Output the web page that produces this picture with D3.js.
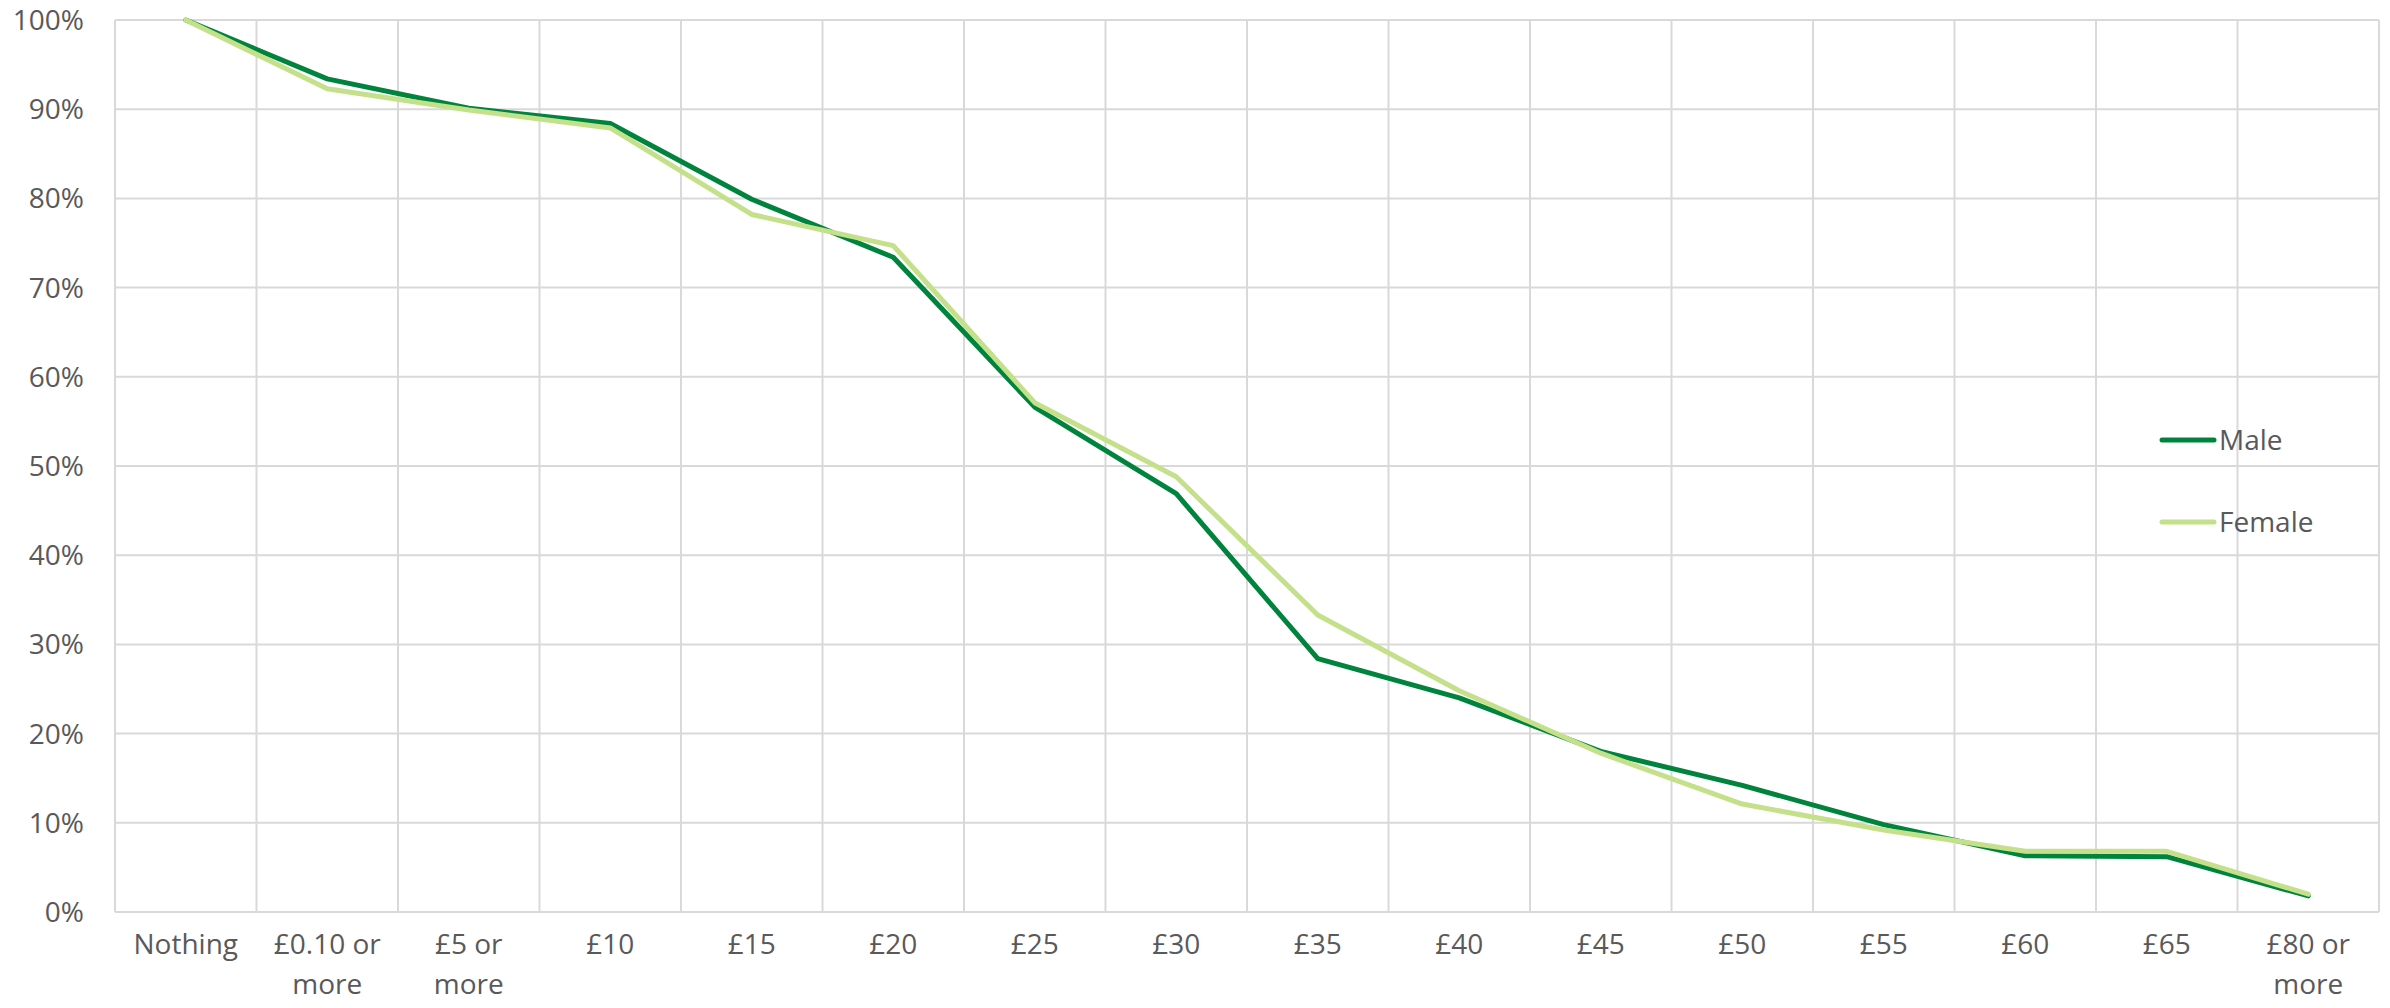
<!DOCTYPE html>
<html>
<head>
<meta charset="utf-8">
<script src="https://cdn.jsdelivr.net/npm/d3@7"></script>
<style>
  body { margin: 0; background: #fff; }
  svg text { font-family: "Open Sans", sans-serif; fill: #595959; font-size: 28px; }
</style>
</head>
<body>
<svg></svg>
<script>
const categories = ["Nothing", "£0.10 or more", "£5 or more", "£10", "£15", "£20", "£25", "£30",
                    "£35", "£40", "£45", "£50", "£55", "£60", "£65", "£80 or more"];
const male   = [100, 93.4, 90.1, 88.4, 79.9, 73.4, 56.6, 46.9, 28.4, 24.0, 18.0, 14.2, 9.8, 6.3, 6.2, 1.8];
const female = [100, 92.3, 89.9, 87.9, 78.2, 74.7, 57.1, 48.8, 33.3, 24.8, 17.8, 12.1, 9.2, 6.8, 6.8, 2.0];
const yTicks = [0, 10, 20, 30, 40, 50, 60, 70, 80, 90, 100];
const series = [
    {name: "Male", values: male, color: "#00843d"},
    {name: "Female", values: female, color: "#c5e08a"}
];

window.onload = () => {
    let width = 2390, height = 1008;
    let left = 115, right = 2379, top = 20, bottom = 912;

    let svg = d3.select("svg")
        .attr("width", width)
        .attr("height", height);

    let x = d3.scaleBand().domain(categories).range([left, right]).padding(0);
    let y = d3.scaleLinear().domain([0, 100]).range([bottom, top]);
    let cx = d => x(d) + x.bandwidth() / 2;

    // grid
    let grid = svg.append("g").attr("stroke", "#d9d9d9").attr("stroke-width", 2);
    grid.selectAll("line.h")
        .data(yTicks)
        .enter().append("line")
            .attr("x1", left).attr("x2", right)
            .attr("y1", d => y(d)).attr("y2", d => y(d));
    grid.selectAll("line.v")
        .data(categories.concat(["end"]))
        .enter().append("line")
            .attr("x1", (d, i) => left + i * x.bandwidth())
            .attr("x2", (d, i) => left + i * x.bandwidth())
            .attr("y1", top).attr("y2", bottom);

    // y labels
    svg.append("g").selectAll("text")
        .data(yTicks)
        .enter().append("text")
            .attr("x", 84)
            .attr("y", d => y(d))
            .attr("dy", "0.36em")
            .attr("text-anchor", "end")
            .text(d => d + "%");

    // x labels, Excel-style wrap
    let xl = svg.append("g").selectAll("text")
        .data(categories)
        .enter().append("text")
            .attr("text-anchor", "middle")
            .attr("y", 954)
            .attr("dy", "0.36em");
    xl.each(function(d) {
        let lines = d.endsWith(" or more") ? [d.replace(" more", ""), "more"] : [d];
        d3.select(this).selectAll("tspan")
            .data(lines)
            .enter().append("tspan")
                .attr("x", cx(d))
                .attr("dy", (l, i) => i == 0 ? 0 : 40)
                .text(l => l);
    });

    // lines
    let line = d3.line()
        .x((v, i) => cx(categories[i]))
        .y(v => y(v));
    svg.append("g").selectAll("path")
        .data(series)
        .enter().append("path")
            .attr("d", d => line(d.values))
            .attr("fill", "none")
            .attr("stroke", d => d.color)
            .attr("stroke-width", 5)
            .attr("stroke-linejoin", "round")
            .attr("stroke-linecap", "round");

    // legend
    let lg = svg.append("g").selectAll("g")
        .data(series)
        .enter().append("g")
            .attr("transform", (d, i) => "translate(2162," + (440 + i * 82) + ")");
    lg.append("line")
        .attr("x1", 0).attr("x2", 52)
        .attr("stroke", d => d.color)
        .attr("stroke-width", 5)
        .attr("stroke-linecap", "round");
    lg.append("text")
        .attr("x", 57)
        .attr("dy", "0.36em")
        .text(d => d.name);
};
</script>
</body>
</html>
